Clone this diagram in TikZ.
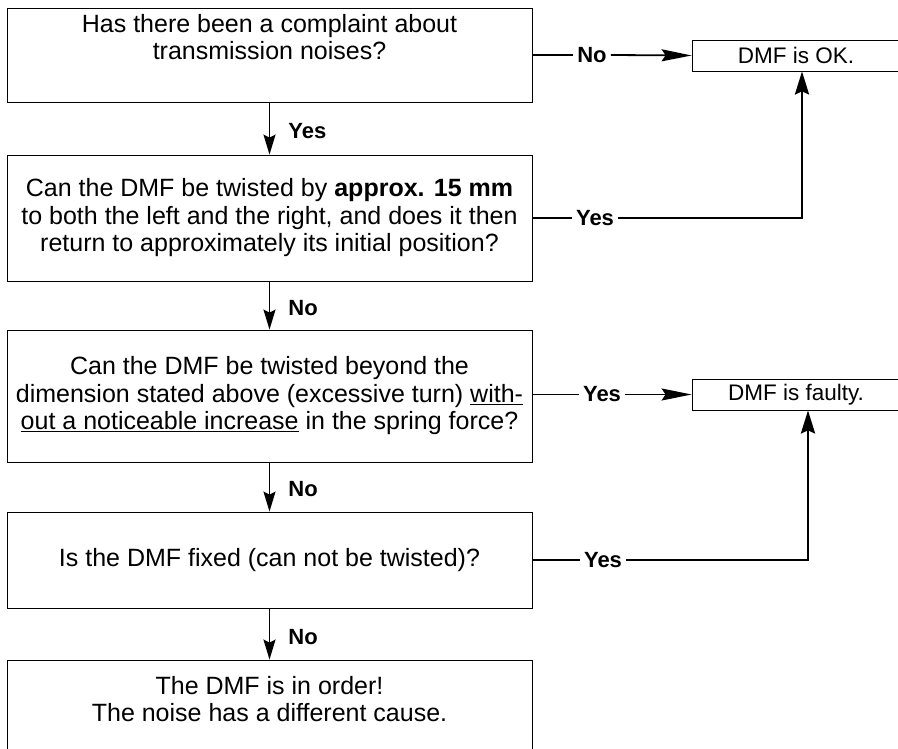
\documentclass[tikz,border=0pt]{standalone}
\usepackage{fontspec}
\setmainfont{Liberation Sans}
\usetikzlibrary{arrows.meta}

\begin{document}
\begin{tikzpicture}
  [x=1pt,y=-1pt,
   qbox/.style={draw,line width=.8pt,align=center,minimum width=525pt,inner xsep=3pt,
     font=\fontsize{25}{27.5}\selectfont},
   endbox/.style={draw,line width=.8pt,minimum width=208pt,minimum height=31pt,inner sep=0pt,
     font=\fontsize{22.5}{24}\selectfont},
   lbl/.style={inner sep=4pt,font=\fontsize{22}{24}\selectfont\bfseries},
   wire/.style={line width=1.8pt},
   down/.style={line width=1.8pt,-{Stealth[length=20pt,width=12pt,inset=3pt]}},
   side/.style={line width=1.8pt,-{Stealth[length=30pt,width=12pt,inset=4pt]}},
   up/.style={line width=2.8pt,-{Stealth[length=23pt,width=14pt,inset=3pt]}}]
  \useasboundingbox (0,0) rectangle (898,749);

  % questions
  \node [qbox,minimum height=94pt] (q1) at (269.5,55) {Has there been a complaint about\\transmission noises?\\\strut};
  \node [qbox,minimum height=126pt] (q2) at (269.5,218) {Can the DMF be twisted by \textbf{approx. 15 mm}\\to both the left and the right, and does it then\\return to approximately its initial position?};
  \node [qbox,minimum height=132pt] (q3) at (269.5,396) {Can the DMF be twisted beyond the\\dimension stated above (excessive turn) \underline{with-}\\\underline{out a noticeable increase} in the spring force?};
  \node [qbox,minimum height=96pt] (q4) at (269.5,560) {Is the DMF fixed (can not be twisted)?};
  \node [qbox,minimum height=114pt] (q5) at (269.5,717) {The DMF is in order!\\The noise has a different cause.\\\strut};

  % results
  \node [endbox] (ok) at (796,55.5) {DMF is OK.};
  \node [endbox] (bad) at (796,394.5) {DMF is faulty.};

  % answers
  \foreach \from/\to/\lab/\name in {q1/q2/Yes/d1,q2/q3/No/d2,q3/q4/No/d3,q4/q5/No/d4}
    \draw [down] (\from) -- node [lbl,anchor=west,xshift=14pt,pos=.55] (\name) {\lab} (\to);

  \node [lbl] (no1) at (592,55) {No};
  \node [lbl] (yes2) at (595,218) {Yes};
  \node [lbl] (yes3) at (602,394.5) {Yes};
  \node [lbl] (yes4) at (603,560) {Yes};
  \coordinate (c2) at (802,218);
  \coordinate (c4) at (808,560);

  \foreach \from/\to in {q1/no1,q2/yes2,q3/yes3,q4/yes4}
    \draw [wire] (\from.east |- \to) -- (\to.west);
  \draw [side] (no1.east) -- (ok.west);
  \draw [side] (yes3.east) -- (bad.west);
  \draw [wire] (yes2.east) -- ([xshift=1.4pt]c2);
  \draw [up] ([yshift=-.9pt]c2) -- (c2 |- ok.south);
  \draw [wire] (yes4.east) -- ([xshift=1.4pt]c4);
  \draw [up] ([yshift=-.9pt]c4) -- (c4 |- bad.south);
\end{tikzpicture}
\end{document}
